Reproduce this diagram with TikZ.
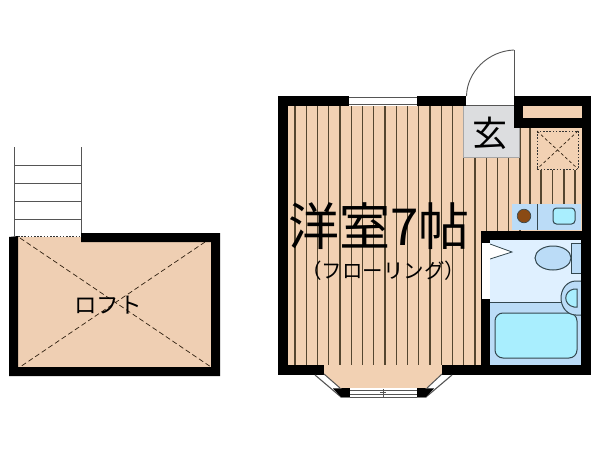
\documentclass[tikz,border=0pt]{standalone}
\usepackage{fontspec}
\newfontfamily\cjk{Noto Sans CJK JP}
\definecolor{tan}{HTML}{F2D1B3}
\definecolor{lofttan}{HTML}{EFCFB3}
\definecolor{stripe}{HTML}{54452F}
\definecolor{gen}{HTML}{DCDDDF}
\definecolor{bathlight}{HTML}{DFF0FF}
\definecolor{bathblue}{HTML}{BBDCF7}
\definecolor{tubcyan}{HTML}{A9EEFE}
\definecolor{fixline}{HTML}{33474F}
\definecolor{burner}{HTML}{8A4A14}
\definecolor{thin}{HTML}{555555}
\tikzset{
  wall/.style={fill=black,draw=none},
  stripeline/.style={draw=stripe,line width=1.25pt},
  fixture/.style={draw=fixline,line width=1pt},
  thinline/.style={draw=thin,line width=0.9pt},
  dashline/.style={draw=black!75!brown,line width=0.7pt,dash pattern=on 5pt off 3pt},
  dotline/.style={draw=black!80,line width=1pt,dash pattern=on 1.6pt off 1.6pt},
  label/.style={inner sep=0pt,text=black,font=\cjk},
}
\begin{document}
\begin{tikzpicture}[x=1pt,y=-1pt]
\useasboundingbox (0,0) rectangle (600,450);
% ---------- loft
\fill[lofttan] (18,237) -- (81,237) -- (81,242) -- (211,242) -- (211,367) -- (18,367) -- cycle;
\draw[dashline] (20,238) -- (211,367);
\draw[dashline] (205,242) -- (20,367);
\path[wall] (9,237) -- (18,236) -- (18,367) -- (211,367) -- (211,242) -- (81,242) -- (81,233) -- (220,233) -- (220,376) -- (9,376) -- cycle;
\draw[thinline] (14,147) -- (14,236);
\draw[thinline] (81,147) -- (81,233);
\foreach \yy in {165,183,201,219} \draw[thinline] (14,\yy) -- (81,\yy);
\draw[dotline] (18,236) -- (81,236);
\node[label,font=\cjk\fontsize{22.5}{22.5}\selectfont] (loft) at (108,305) {ロフト};
% ---------- main floor
\fill[tan] (287,105) rectangle (582,365);
\fill[tan] (324,365) -- (442,365) -- (442,374) -- (427,388) -- (340,388) -- (324,374) -- cycle;
\foreach \k in {0,...,16} \draw[stripeline] ({295+11.25*\k},105) -- ({295+11.25*\k},365);
\foreach \k in {17,...,20} \draw[stripeline] ({295+11.25*\k},128) -- ({295+11.25*\k},365);
\draw[stripeline] (530,128) -- (530,204);
\foreach \xx in {541,552.5,564,575} \draw[stripeline] (\xx,170) -- (\xx,204);
% genkan
\draw[fill=gen,draw=gray!70,line width=0.6pt] (463,105) rectangle (519,157);
% storage dotted square
\draw[dotline] (537,131) rectangle (578,169);
\draw[dashline,dash pattern=on 3pt off 2.5pt] (537,131) -- (578,169);
\draw[dashline,dash pattern=on 3pt off 2.5pt] (578,131) -- (537,169);
% kitchen
\fill[bathblue] (512,204) rectangle (581,230);
\draw[fixline,line width=0.7pt] (537,204) -- (537,230);
\draw[fill=burner,draw=fixline,line width=0.6pt] (524,216) circle (6.8);
\draw[fixture,fill=tubcyan,rounded corners=3.5pt] (553,208) rectangle (575,224);
% bath
\fill[bathlight] (490,240) rectangle (581,302);
\fill[bathblue] (490,302) rectangle (581,365);
\draw[fixture] (490,302) -- (562,302);
\draw[fixture,fill=tubcyan,rounded corners=8pt] (495,313) rectangle (577,358);
\draw[fixture,fill=bathblue] (553,258) ellipse (18 and 12);
\draw[fixture,fill=bathblue] (581,243) -- (571,243) -- (571,273) -- (581,273);
\draw[fixture,fill=bathblue] (581,281) -- (576,281) .. controls (567,281) and (561,289) .. (561,298) .. controls (561,307) and (567,315) .. (576,315) -- (581,315);
\draw[fixture,fill=tubcyan] (577,289) -- (574,289) .. controls (563,291) and (563,305) .. (574,307) -- (577,307) -- cycle;
\fill[white] (490,244) -- (512,252) -- (490,259) -- cycle;
\draw[fixture,line width=0.8pt] (490,244) -- (512,252) -- (490,259);
% ---------- walls
\path[wall] (278,96) rectangle (349,105.5);
\path[wall] (417,96) rectangle (466,105.5);
\path[wall] (278,96) rectangle (287.5,375);
\path[wall] (278,365) rectangle (324,375);
\path[wall] (442,365) rectangle (591,375);
\path[wall] (514,96) rectangle (591,106);
\path[wall] (514,96) rectangle (523,128);
\path[wall] (514,118) rectangle (582,128);
\path[wall] (582,96) rectangle (591,375);
\path[wall] (481,231) rectangle (591,240);
\path[wall] (481,231) rectangle (490,365);
\path[wall] (581,231) rectangle (591,375);
\path[wall] (481,365) rectangle (490,375);
\fill[white] (481.5,243) rectangle (490,299);
% top window
\fill[white] (349,96) rectangle (417,105.5);
\draw[thinline] (349,97) -- (417,97);
\draw[thinline] (349,104.5) -- (417,104.5);
% door
\fill[white] (466,96) rectangle (514,105);
\draw[thinline] (466,105) -- (514,105);
\draw[thinline,line width=1pt] (514,50) -- (514,96);
\draw[thinline,line width=0.9pt] (466.5,96) .. controls (467,72) and (488,51) .. (514,50);
% bay window
\draw[draw=thin,line width=1.1pt] (315,375) -- (341,397) -- (426,397) -- (452,375);
\draw[draw=thin,line width=1pt] (324,374) -- (340,388);
\draw[draw=thin,line width=1pt] (442,374) -- (427,388);
\fill[black] (333,388.5) -- (350,388) -- (350,397) -- (341,397) -- cycle;
\fill[black] (417,388) -- (434,388.5) -- (426,397) -- (417,397) -- cycle;
\fill[white] (350,388) rectangle (417,397);
\draw[thinline] (350,390.5) -- (417,390.5);
\draw[thinline] (350,394.5) -- (417,394.5);
\draw[thinline] (350,397) -- (417,397);
\draw[thinline] (383,389) -- (383,397);
\draw[thinline] (380,392.5) -- (386,392.5);
% ---------- labels
\node[label,font=\cjk\fontsize{51}{51}\selectfont] (room) at (379,226) {洋室7帖};
\node[label,font=\cjk\fontsize{20.5}{20.5}\selectfont] (floor) at (383,271) {（フローリング）};
\node[label,font=\cjk\fontsize{35}{35}\selectfont] (gk) at (490,133) {玄};
\end{tikzpicture}
\end{document}
